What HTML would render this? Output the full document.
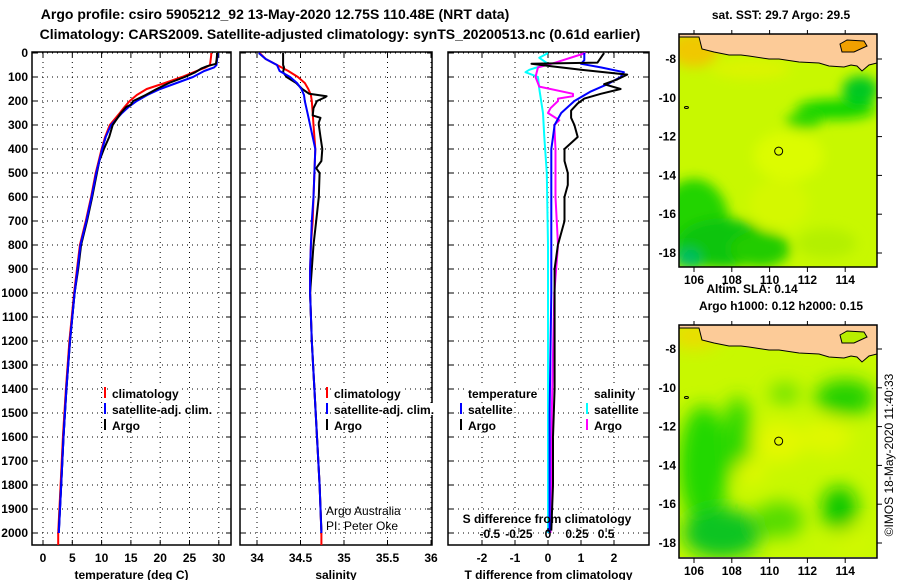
<!DOCTYPE html>
<html><head><meta charset="utf-8"><style>
html,body{margin:0;padding:0;background:#fff;}
svg{display:block;font-family:"Liberation Sans",sans-serif;}
.t{font-weight:bold;font-size:12px;}
.ttl{font-weight:bold;font-size:14px;}
</style></head><body>
<svg id="fig" width="900" height="580" viewBox="0 0 900 580" xmlns="http://www.w3.org/2000/svg">
<defs>
<clipPath id="c1"><rect x="32" y="52" width="199" height="493"/></clipPath>
<clipPath id="c2"><rect x="240" y="52" width="192" height="493"/></clipPath>
<clipPath id="c3"><rect x="448" y="52" width="201" height="493"/></clipPath>
<clipPath id="m1"><rect x="679" y="34" width="198" height="233"/></clipPath>
<clipPath id="m2"><rect x="679" y="325" width="198" height="232"/></clipPath>
<filter id="bl" x="-50%" y="-50%" width="200%" height="200%"><feGaussianBlur stdDeviation="6"/></filter>
<filter id="bl2" x="-50%" y="-50%" width="200%" height="200%"><feGaussianBlur stdDeviation="9"/></filter>
</defs>
<text class="ttl" x="275" y="19" text-anchor="middle">Argo profile: csiro 5905212_92 13-May-2020 12.75S 110.48E (NRT data)</text>
<text class="ttl" x="340" y="39" text-anchor="middle">Climatology: CARS2009. Satellite-adjusted climatology: synTS_20200513.nc (0.61d earlier)</text>
<g id="panels"></g>
<g id="maps"></g>
<text x="893" y="455" font-size="12" text-anchor="middle" transform="rotate(-90 893 455)">©IMOS 18-May-2020 11:40:33</text>
</svg>
<script>
// ---------- data ----------
const depthTicks = [0,100,200,300,400,500,600,700,800,900,1000,1100,1200,1300,1400,1500,1600,1700,1800,1900,2000];
const tempTicks = [0,5,10,15,20,25,30];
const salTicks = [34,34.5,35,35.5,36];
const tdiffTicks = [-2,-1,0,1,2];
const sdiffTicks = [-0.5,-0.25,0,0.25,0.5];

const climDepth = [0,10,30,50,60,75,100,125,150,175,200,225,250,300,350,400,450,500,600,700,800,900,1000,1200,1400,1600,1800,2000,2050];
const climTemp = [28.7,28.7,28.6,28.5,27.8,26.2,23.7,20.8,17.7,16.0,14.8,13.9,13.1,11.4,10.6,10.0,9.5,9.0,8.2,7.3,6.3,5.8,5.3,4.5,3.9,3.4,3.0,2.6,2.6];
const satTemp = [29.8,29.8,29.7,29.6,29.2,27.5,25.6,22.8,20.0,17.8,16.0,14.6,13.5,11.6,10.7,10.1,9.6,9.1,8.3,7.4,6.4,5.9,5.4,4.6,4.0,3.5,3.1,2.7,2.7];
const argoTDepth = [0,10,30,45,55,65,80,100,125,150,175,200,215,225,250,300,350,400,450,500,600,700,800,900,1000,1200,1400,1600,1800,1990];
const argoTemp = [29.7,29.7,29.6,29.5,28.0,27.0,26.0,24.2,21.5,19.4,17.5,15.4,15.0,14.2,13.3,11.9,11.3,10.4,9.6,9.2,8.4,7.5,6.5,6.0,5.4,4.6,4.0,3.5,3.1,2.7];

const salDepth = [0,25,50,75,100,125,150,175,200,250,300,400,500,600,700,800,900,1000,1200,1400,1600,1800,2000,2050];
const climSal = [34.03,34.10,34.23,34.36,34.47,34.55,34.59,34.62,34.63,34.64,34.65,34.67,34.66,34.65,34.64,34.62,34.61,34.61,34.63,34.66,34.69,34.72,34.74,34.74];
const satSal = [34.02,34.10,34.23,34.26,34.38,34.46,34.51,34.54,34.55,34.58,34.61,34.67,34.66,34.65,34.63,34.62,34.61,34.61,34.63,34.66,34.69,34.72,34.74,34.74];
const argoSDepth = [0,30,50,60,80,100,125,150,170,180,185,200,230,260,270,290,300,350,400,450,480,500,600,700,800,900,1000,1200,1400,1600,1800,1990];
const argoSal = [34.30,34.30,34.30,34.31,34.30,34.34,34.45,34.52,34.60,34.80,34.78,34.69,34.65,34.64,34.73,34.71,34.71,34.73,34.75,34.74,34.68,34.72,34.71,34.68,34.65,34.63,34.61,34.63,34.66,34.69,34.72,34.74];

const argoDTDepth = [0,20,40,45,55,70,90,110,130,150,170,190,210,240,270,300,350,400,450,500,550,600,700,800,900,1000,1200,1400,1600,1800,1990];
const argoDT = [1.7,1.6,1.5,-0.5,0.1,1.0,2.4,2.1,1.7,2.2,1.6,1.1,0.9,0.7,0.7,0.8,0.9,0.5,0.5,0.6,0.6,0.5,0.5,0.3,0.2,0.2,0.2,0.2,0.15,0.15,0.1];
const satDTDepth = [0,30,45,60,80,100,130,160,200,250,300,350,400,600,800,1000,1500,2000];
const satDT = [1.1,1.1,1.0,1.6,2.3,2.2,1.8,1.3,0.8,0.4,0.2,0.15,0.1,0.1,0.1,0.1,0.05,0.05];
const satDSDepth = [0,20,45,70,80,100,150,250,350,500,800,1200,2000];
const satDS = [0.0,-0.07,0.0,-0.15,-0.18,-0.08,-0.07,-0.04,-0.03,-0.01,0,0,0];
const argoDSDepth = [0,40,60,100,140,170,180,190,200,230,250,280,300,400,600,800,1000,1500,2000];
const argoDS = [0.3,0.06,-0.08,-0.10,-0.07,0.2,0.2,0.08,0.08,0.02,0.0,0.09,0.05,0.06,0.06,0.08,0.05,0.03,0.02];

// ---------- scales ----------
const NS='http://www.w3.org/2000/svg';
const yD = d => 53 + d*0.24;
const xT = v => 43 + v*5.86;
const xS = v => 257 + (v-34)*87;
const xDT = v => 548 + v*33;
const xDS = v => 548 + v*125;
const TOP=52, BOT=545;

function mk(tag, attrs, parent){const e=document.createElementNS(NS,tag);for(const k in attrs)e.setAttribute(k,attrs[k]);parent.appendChild(e);return e;}
const panels=document.getElementById('panels');

function panel(name,x0,x1,clip,xs,ticks,labels,title,showY){
  const g=mk('g',{},panels);
  
  
  depthTicks.forEach(d=>{
    const l=mk('line',{x1:x0,x2:x1,y1:yD(d),y2:yD(d),stroke:'#000','stroke-width':1,'stroke-dasharray':'1,4'},g);
    
    
    mk('line',{x1:x0,x2:x0+5,y1:yD(d),y2:yD(d),stroke:'#000'},g);
    mk('line',{x1:x1-5,x2:x1,y1:yD(d),y2:yD(d),stroke:'#000'},g);
    if(showY){const t=mk('text',{x:28,y:yD(d)+4,'text-anchor':'end',class:'t'},g);t.textContent=d;
      
      }
  });
  ticks.forEach((v,i)=>{
    const x=xs(v);
    const l=mk('line',{x1:x,x2:x,y1:TOP,y2:BOT,stroke:'#000','stroke-width':1,'stroke-dasharray':'1,4'},g);
    
    
    mk('line',{x1:x,x2:x,y1:BOT-5,y2:BOT,stroke:'#000'},g);
    mk('line',{x1:x,x2:x,y1:TOP,y2:TOP+5,stroke:'#000'},g);
    const t=mk('text',{x:x,y:562,'text-anchor':'middle',class:'t'},g);t.textContent=labels[i];
    
    
  });
  const tt=mk('text',{x:(x0+x1)/2,y:579,'text-anchor':'middle',class:'t'},g);tt.textContent=title;
  
  
  const r=mk('rect',{x:x0,y:TOP,width:x1-x0,height:BOT-TOP,fill:'none',stroke:'#000','stroke-width':1.5},g);
  
  
  const lg=mk('g',{'clip-path':'url(#'+clip+')'},g);
  return lg;
}
function line(g,xs,depths,vals,color,name){
  const pts=depths.map((d,i)=>xs(vals[i]).toFixed(1)+','+yD(d).toFixed(1)).join(' ');
  const p=mk('polyline',{points:pts,fill:'none',stroke:color,'stroke-width':2,'stroke-linejoin':'round'},g);
  
  
}
function legend(g,x,y,color,txt,mark){
  const bg=mk('rect',{x:x-1,y:y-8,width:10,height:12,fill:'#fff'},g);
  if(mark){mk('rect',{x:x-8,y:y-8,width:2,height:11,fill:color},g);}
  const t=mk('text',{x:x,y:y+3,class:'t'},g);t.textContent=txt;
  
  
  bg.setAttribute('width', t.getComputedTextLength()+2);
}

let g1=panel('temperature-panel',32,231,'c1',xT,tempTicks,tempTicks.map(String),'temperature (deg C)',true);
line(g1,xT,climDepth,climTemp,'#f00','clim-temperature-line');
line(g1,xT,climDepth.slice(0,28),satTemp.slice(0,28),'#00f','sat-temperature-line');
line(g1,xT,argoTDepth,argoTemp,'#000','argo-temperature-line');
line(g1,xT,climDepth.slice(14,28),satTemp.slice(14,28),'#00f','sat-temperature-deep');
let pg=panels.lastChild;
legend(pg,112,395,'#f00','climatology',true);
legend(pg,112,411,'#00f','satellite-adj. clim.',true);
legend(pg,112,427,'#000','Argo',true);

let g2=panel('salinity-panel',240,432,'c2',xS,salTicks,['34','34.5','35','35.5','36'],'salinity',false);
line(g2,xS,salDepth,climSal,'#f00','clim-salinity-line');
line(g2,xS,argoSDepth,argoSal,'#000','argo-salinity-line');
line(g2,xS,salDepth.slice(0,23),satSal.slice(0,23),'#00f','sat-salinity-line');
pg=panels.lastChild;
legend(pg,334,395,'#f00','climatology',true);
legend(pg,334,411,'#00f','satellite-adj. clim.',true);
legend(pg,334,427,'#000','Argo',true);
let n1=mk('text',{x:326,y:515,'font-size':12},pg);n1.textContent='Argo Australia';


let n2=mk('text',{x:326,y:530,'font-size':12},pg);n2.textContent='PI: Peter Oke';



let g3=panel('difference-panel',448,649,'c3',xDT,tdiffTicks,tdiffTicks.map(String),'T difference from climatology',false);
line(g3,xDS,satDSDepth,satDS,'#0ff','sat-salinity-diff-line');
line(g3,xDS,argoDSDepth,argoDS,'#f0f','argo-salinity-diff-line');
line(g3,xDT,satDTDepth,satDT,'#00f','sat-temperature-diff-line');
line(g3,xDT,argoDTDepth,argoDT,'#000','argo-temperature-diff-line');
pg=panels.lastChild;
legend(pg,468,395,'#000','temperature',false);
legend(pg,468,411,'#00f','satellite',true);
legend(pg,468,427,'#000','Argo',true);
legend(pg,594,395,'#000','salinity',false);
legend(pg,594,411,'#0ff','satellite',true);
legend(pg,594,427,'#f0f','Argo',true);
let st=mk('text',{x:547,y:523,'text-anchor':'middle',class:'t'},pg);st.textContent='S difference from climatology';


sdiffTicks.forEach(v=>{
  const t=mk('text',{x:xDS(v)*0.93+548*0.07,y:538,'text-anchor':'middle',class:'t'},pg);t.textContent=String(v);
  
  
  mk('line',{x1:xDS(v)*0.93+548*0.07,x2:xDS(v)*0.93+548*0.07,y1:528,y2:532,stroke:'#000'},pg);
});

// ---------- maps ----------
const lonTicks=[106,108,110,112,114];
const latTicks=[-8,-10,-12,-14,-16,-18];
const maps=document.getElementById('maps');
function map(name,y0,clip,blobs,title1,title2,latOff){
  const g=mk('g',{},maps);
  
  
  const x0=679,w=198,h=233;
  const lx=v=>694+(v-106)*18.9;
  const ly=v=>y0+latOff+(-8-v)*19.4;
  const inner=mk('g',{'clip-path':'url(#'+clip+')'},g);
  mk('rect',{x:x0,y:y0,width:w,height:h,fill:'#c8f800'},inner);
  const bg=mk('g',{filter:'url(#'+(name==='altimetry-map'?'bl2':'bl')+')'},inner);
  blobs.forEach(b=>mk('ellipse',{cx:lx(b[0]),cy:ly(b[1]),rx:b[2],ry:b[3],fill:b[4]},bg));
  const land='0,3 20,3 23,15 35,18 50,21 62,21 70,22 90,25 100,25 120,28 140,29 150,32 165,33 172,31 178,32 183,37 190,31 198,29 198,0 0,0';
  const lp=land.split(' ').map(p=>{const [a,b]=p.split(',');return (x0+ +a)+','+(y0+ +b);}).join(' ');
  const L=mk('polygon',{points:lp,fill:'#fccb98',stroke:'#000','stroke-width':1},inner);
  
  
  mk('polygon',{points:[[161,10],[168,6],[185,7],[188,12],[175,18],[163,18]].map(p=>(x0+p[0])+','+(y0+p[1])).join(' '),fill:name==='sst-map'?'#f0a000':'#b8ee00',stroke:'#000','stroke-width':1},inner);
  mk('ellipse',{cx:lx(105.6),cy:ly(-10.5),rx:2,ry:1,fill:'none',stroke:'#000'},inner);
  const c=mk('circle',{cx:lx(110.48),cy:ly(-12.75),r:4,fill:'none',stroke:'#000','stroke-width':1},g);
  
  
  mk('rect',{x:x0,y:y0,width:w,height:h,fill:'none',stroke:'#000','stroke-width':1.5},g);
  lonTicks.forEach(v=>{
    mk('line',{x1:lx(v),x2:lx(v),y1:y0+h,y2:y0+h+5,stroke:'#000'},g);
    mk('line',{x1:lx(v),x2:lx(v),y1:y0-4,y2:y0,stroke:'#000'},g);
    const t=mk('text',{x:lx(v),y:y0+h+17,'text-anchor':'middle',class:'t'},g);t.textContent=v;
    
    
  });
  latTicks.forEach(v=>{
    mk('line',{x1:x0+w,x2:x0+w+5,y1:ly(v),y2:ly(v),stroke:'#000'},g);
    const t=mk('text',{x:x0-3,y:ly(v)+4,'text-anchor':'end',class:'t'},g);t.textContent=v;
    
    
  });
  const t1=mk('text',{x:title2?752:781,y:y0-(title2?32:15),'text-anchor':'middle',class:'t'},g);t1.textContent=title1;
  
  
  if(title2){const t2=mk('text',{x:781,y:y0-15,'text-anchor':'middle',class:'t'},g);t2.textContent=title2;
    
    }
}
map('sst-map',34,'m1',[
 [106,-7.5,25,18,'#f0c800'],[109,-8.5,40,10,'#dcf400'],
 [106,-16.5,35,45,'#22d400'],[107.5,-17.5,45,25,'#11c411'],[109.5,-17.8,30,18,'#22cc00'],[105.7,-18.3,12,10,'#00bb66'],
 [113.5,-10.6,40,10,'#11d400'],[114.8,-9.6,18,14,'#00c822'],[111.8,-11.2,18,8,'#33d800'],
 [111,-13,35,25,'#dcfc00'],[110.5,-15.5,30,25,'#d4f800'],[113,-17.5,30,15,'#b4f000']
],'sat. SST: 29.7 Argo: 29.5',null,25);
map('altimetry-map',325,'m2',[
 [106,-7.3,25,12,'#f0d800'],[106.5,-14,25,60,'#22d800'],[107.5,-17.5,40,25,'#11c422'],[108.3,-12.5,14,40,'#33d800'],
 [114,-10.5,30,18,'#22d000'],[110.8,-10.3,15,10,'#66e000'],[113.7,-16.2,18,22,'#11c800'],
 [110.5,-12.8,25,20,'#e4f800'],[113,-12.5,25,18,'#e0f800'],[109,-14.3,15,12,'#e0f800'],[114.5,-18,20,15,'#d0f800'],[110.5,-16.8,25,18,'#55dc00']
],'Altim. SLA: 0.14','Argo h1000: 0.12 h2000: 0.15',24);
</script>
</body></html>
